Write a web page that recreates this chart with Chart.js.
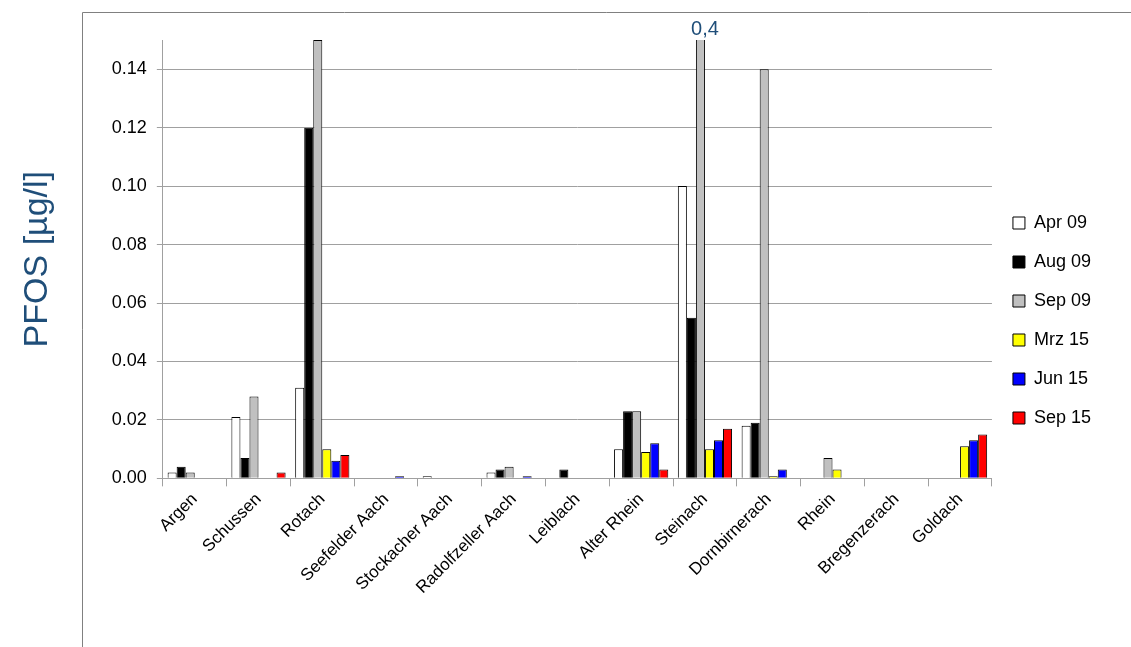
<!DOCTYPE html>
<html>
<head>
<meta charset="utf-8">
<script src="https://cdn.jsdelivr.net/npm/chart.js@4"></script>
<style>
  body { margin: 0; background: #fff; }
  #wrap { position: relative; width: 1131px; height: 647px; }
</style>
</head>
<body>
<div id="wrap"><canvas id="c"></canvas></div>
<script>
const categories = ['Argen', 'Schussen', 'Rotach', 'Seefelder Aach', 'Stockacher Aach', 'Radolfzeller Aach',
  'Leiblach', 'Alter Rhein', 'Steinach', 'Dornbirnerach', 'Rhein', 'Bregenzerach', 'Goldach']
const apr09 = [0.002, 0.021, 0.031, null, 0.0007, 0.002, null, 0.010, 0.100, 0.018, null, null, null]
const aug09 = [0.004, 0.007, 0.120, null, null, 0.003, 0.003, 0.023, 0.055, 0.019, null, null, null]
const sep09 = [0.002, 0.028, 0.150, null, null, 0.004, null, 0.023, 0.400, 0.140, 0.007, null, null]
const mrz15 = [null, null, 0.010, null, null, null, null, 0.009, 0.010, 0.0007, 0.003, null, 0.011]
const jun15 = [null, null, 0.006, 0.0007, null, 0.0007, null, 0.012, 0.013, 0.003, null, null, 0.013]
const sep15 = [null, 0.002, 0.008, null, null, null, null, 0.003, 0.017, null, null, null, 0.015]
const yTicks = [0, 0.02, 0.04, 0.06, 0.08, 0.10, 0.12, 0.14]

const series = [
  ['Apr 09', apr09, '#ffffff'],
  ['Aug 09', aug09, '#000000'],
  ['Sep 09', sep09, '#c0c0c0'],
  ['Mrz 15', mrz15, '#ffff00'],
  ['Jun 15', jun15, '#0000ff'],
  ['Sep 15', sep15, '#ff0000']
]

// frame line at left/top and the "0,4" note over the clipped Steinach bar
const extras = {
  id: 'extras',
  afterDraw(chart) {
    const ctx = chart.ctx
    ctx.save()
    ctx.strokeStyle = '#808080'
    ctx.lineWidth = 1
    ctx.beginPath()
    ctx.moveTo(82.5, 647)
    ctx.lineTo(82.5, 12.5)
    ctx.lineTo(1131, 12.5)
    ctx.stroke()
    const x = chart.scales.x.getPixelForValue(8)
    ctx.fillStyle = '#1f4e79'
    ctx.font = '20px "Liberation Sans", Arial, sans-serif'
    ctx.textAlign = 'center'
    ctx.textBaseline = 'bottom'
    ctx.fillText('0,4', x, chart.chartArea.top - 1)
    ctx.restore()
  }
}

new Chart(document.getElementById('c').getContext('2d'), {
  type: 'bar',
  data: {
    labels: categories,
    datasets: series.map(([label, data, color]) => ({
      label, data,
      backgroundColor: color,
      borderColor: '#000000',
      borderWidth: 1
    }))
  },
  options: {
    responsive: true,
    maintainAspectRatio: false,
    animation: false,
    layout: { padding: { top: 40, right: 30, left: 13, bottom: 46 } },
    datasets: { bar: { categoryPercentage: 0.85, barPercentage: 1 } },
    plugins: {
      legend: {
        position: 'right',
        align: 'center',
        labels: {
          boxWidth: 12, boxHeight: 12, padding: 21,
          color: '#000', font: { size: 18, family: 'Liberation Sans' }
        }
      },
      tooltip: { enabled: false }
    },
    scales: {
      x: {
        offset: true,
        grid: { display: true, offset: true, drawOnChartArea: false, color: '#a0a0a0', tickLength: 8 },
        border: { color: '#a0a0a0' },
        ticks: { maxRotation: 45, minRotation: 45, color: '#000', font: { size: 17, family: 'Liberation Sans' } }
      },
      y: {
        min: 0, max: 0.15,
        afterBuildTicks: s => { s.ticks = yTicks.map(v => ({ value: v })) },
        grid: { color: '#a0a0a0', tickLength: 6 },
        border: { color: '#a0a0a0' },
        ticks: { color: '#000', padding: 10, font: { size: 18, family: 'Liberation Sans' }, callback: v => v.toFixed(2) },
        title: {
          display: true, text: 'PFOS [µg/l]', color: '#1f4e79',
          font: { size: 34, family: 'Liberation Sans' }, padding: { bottom: 44 }
        }
      }
    }
  },
  plugins: [extras]
})
</script>
</body>
</html>
